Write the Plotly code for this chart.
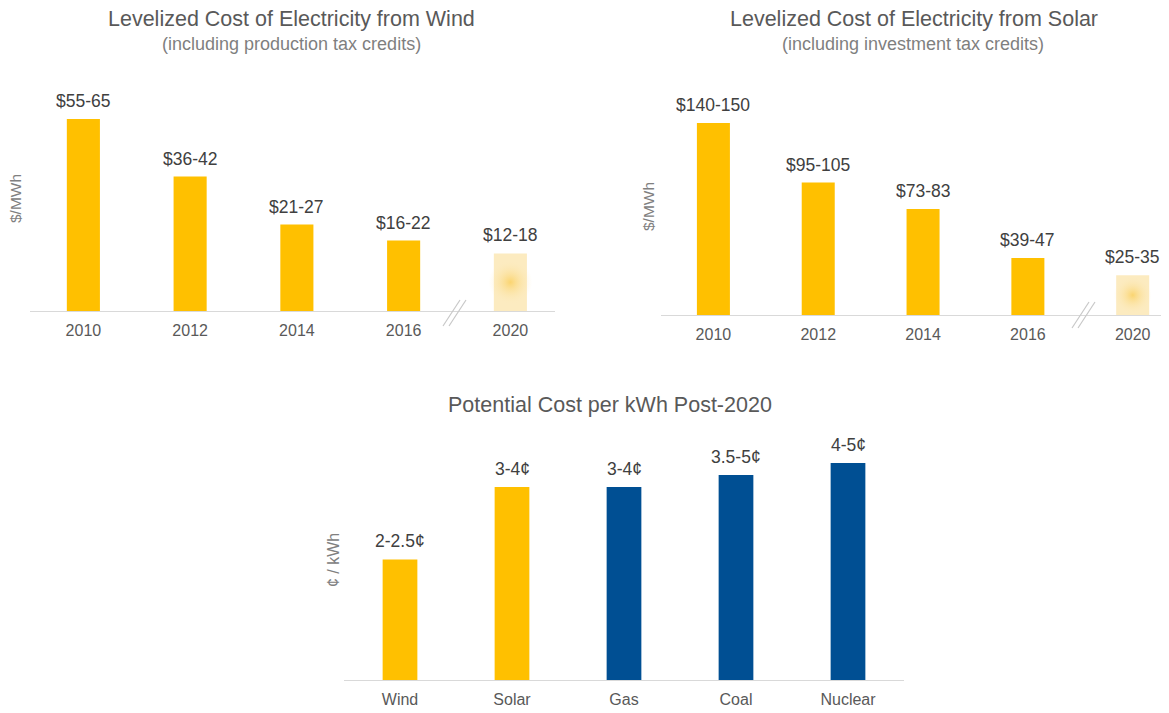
import plotly.graph_objects as go

# ---------------- data ----------------
wind_years = ["2010", "2012", "2014", "2016", "2020"]
wind_cost = [60, 42, 27, 22, 18]          # $/MWh (bar heights)
wind_labels = ["$55-65", "$36-42", "$21-27", "$16-22", "$12-18"]

solar_years = ["2010", "2012", "2014", "2016", "2020"]
solar_cost = [145, 100, 80, 43, 30]       # $/MWh
solar_labels = ["$140-150", "$95-105", "$73-83", "$39-47", "$25-35"]

sources = ["Wind", "Solar", "Gas", "Coal", "Nuclear"]
post_cost = [2.5, 4.0, 4.0, 4.25, 4.5]    # cents / kWh
post_labels = ["2-2.5¢", "3-4¢", "3-4¢", "3.5-5¢", "4-5¢"]
post_kind = ["renewable", "renewable", "fossil", "fossil", "fossil"]

# ---------------- styling ----------------
# the page body adds an 8px margin; the figure is sized to the remaining viewport
OFF = 8
W, H = 1169 - OFF, 713 - OFF
FONT = "Liberation Sans, Arial, sans-serif"
GOLD = "#FFC000"
PALE = "#FCEBC0"
BLUE = "#004F93"
AXIS = "#D9D9D9"
TXT = "#404040"
TICK = "#595959"


def px(x):
    return (x - OFF) / W


def py(y):
    return 1 - (y - OFF) / H


fig = go.Figure()

# ---- wind ----
wind_colors = [GOLD] * 4 + [PALE]
fig.add_trace(go.Bar(x=wind_years, y=wind_cost, marker=dict(color=wind_colors, line=dict(width=0)),
                     width=0.31, xaxis="x", yaxis="y", hoverinfo="skip"))
fig.add_trace(go.Scatter(x=[wind_years[-1]], y=[wind_cost[-1] / 2], mode="markers",
                         marker=dict(symbol="circle", size=44, color="rgba(252,235,192,0)",
                                     gradient=dict(type="radial", color="rgba(250,205,85,0.75)"),
                                     line=dict(width=0)),
                         xaxis="x", yaxis="y", hoverinfo="skip"))

# ---- solar ----
solar_colors = [GOLD] * 4 + [PALE]
fig.add_trace(go.Bar(x=solar_years, y=solar_cost, marker=dict(color=solar_colors, line=dict(width=0)),
                     width=0.315, xaxis="x2", yaxis="y2", hoverinfo="skip"))
fig.add_trace(go.Scatter(x=[solar_years[-1]], y=[solar_cost[-1] / 2], mode="markers",
                         marker=dict(symbol="circle", size=38, color="rgba(252,235,192,0)",
                                     gradient=dict(type="radial", color="rgba(250,205,85,0.75)"),
                                     line=dict(width=0)),
                         xaxis="x2", yaxis="y2", hoverinfo="skip"))

# ---- post-2020 ----
post_colors = [GOLD if k == "renewable" else BLUE for k in post_kind]
fig.add_trace(go.Bar(x=sources, y=post_cost, marker=dict(color=post_colors, line=dict(width=0)),
                     width=0.31, xaxis="x3", yaxis="y3", hoverinfo="skip"))


# ---------------- axes ----------------
def xax(domain_px, rng, anchor):
    return dict(domain=[px(domain_px[0]), px(domain_px[1])], range=rng, type="category",
                showline=True, linecolor=AXIS, linewidth=1.2, showgrid=False, zeroline=False,
                ticks="outside", ticklen=5, tickcolor="rgba(0,0,0,0)",
                tickfont=dict(family=FONT, size=16, color=TICK), anchor=anchor, fixedrange=True)


def yax(base_px, top_px, vmax, anchor):
    return dict(domain=[py(base_px), py(top_px)], range=[0, vmax], visible=False,
                anchor=anchor, fixedrange=True)


wind_scale = 192 / 60
solar_scale = 192 / 145
post_scale = 217 / 4.5

fig.update_layout(
    xaxis=xax((30, 555), [-0.5, 4.418], "y"),
    yaxis=yax(311, 90, (311 - 90) / wind_scale, "x"),
    xaxis2=xax((661, 1161), [-0.5, 4.27], "y2"),
    yaxis2=yax(315, 90, (315 - 90) / solar_scale, "x2"),
    xaxis3=xax((344, 904), [-0.5, 4.5], "y3"),
    yaxis3=yax(680, 440, (680 - 440) / post_scale, "x3"),
)

# ---------------- annotations ----------------
ann = []
for xs, ys, ls, xr, yr in [(wind_years, wind_cost, wind_labels, "x", "y"),
                           (solar_years, solar_cost, solar_labels, "x2", "y2"),
                           (sources, post_cost, post_labels, "x3", "y3")]:
    for i, (y, l) in enumerate(zip(ys, ls)):
        ann.append(dict(x=i, y=y, xref=xr, yref=yr, text=l, showarrow=False, yanchor="bottom",
                        yshift=6, font=dict(family=FONT, size=17.5, color=TXT)))

titles = [
    ("Levelized Cost of Electricity from Wind", 291, 19, 21.5, "#595959"),
    ("(including production tax credits)", 291, 44, 18, "#7F7F7F"),
    ("Levelized Cost of Electricity from Solar", 914, 19, 21.5, "#595959"),
    ("(including investment tax credits)", 913, 44, 18, "#7F7F7F"),
    ("Potential Cost per kWh Post-2020", 610, 405, 21.5, "#595959"),
]
for t, x, y, s, c in titles:
    ann.append(dict(text=t, x=px(x), y=py(y), xref="paper", yref="paper", showarrow=False,
                    xanchor="center", yanchor="middle", font=dict(family=FONT, size=s, color=c)))

for t, x, y, s in [("$/MWh", 15, 199, 15.5), ("$/MWh", 648, 207, 15.5), ("¢ / kWh", 333, 560, 16)]:
    ann.append(dict(text=t, x=px(x), y=py(y), xref="paper", yref="paper", showarrow=False,
                    textangle=-90, xanchor="center", yanchor="middle",
                    font=dict(family=FONT, size=s, color="#808080")))

# break marks "//"
shapes = []
for (x0, y0, x1, y1) in [(443, 326, 460, 300), (449, 326, 466, 300),
                         (1072, 328, 1089, 302), (1078, 328, 1095, 302)]:
    shapes.append(dict(type="line", xref="paper", yref="paper", x0=px(x0), y0=py(y0),
                       x1=px(x1), y1=py(y1), line=dict(color="#C8C8C8", width=1.2)))

fig.update_layout(
    width=W, height=H, autosize=False,
    margin=dict(l=0, r=0, t=0, b=0),
    paper_bgcolor="white", plot_bgcolor="rgba(0,0,0,0)",
    showlegend=False, barmode="overlay",
    annotations=ann, shapes=shapes,
    font=dict(family=FONT),
)

fig.write_html("out.html")
